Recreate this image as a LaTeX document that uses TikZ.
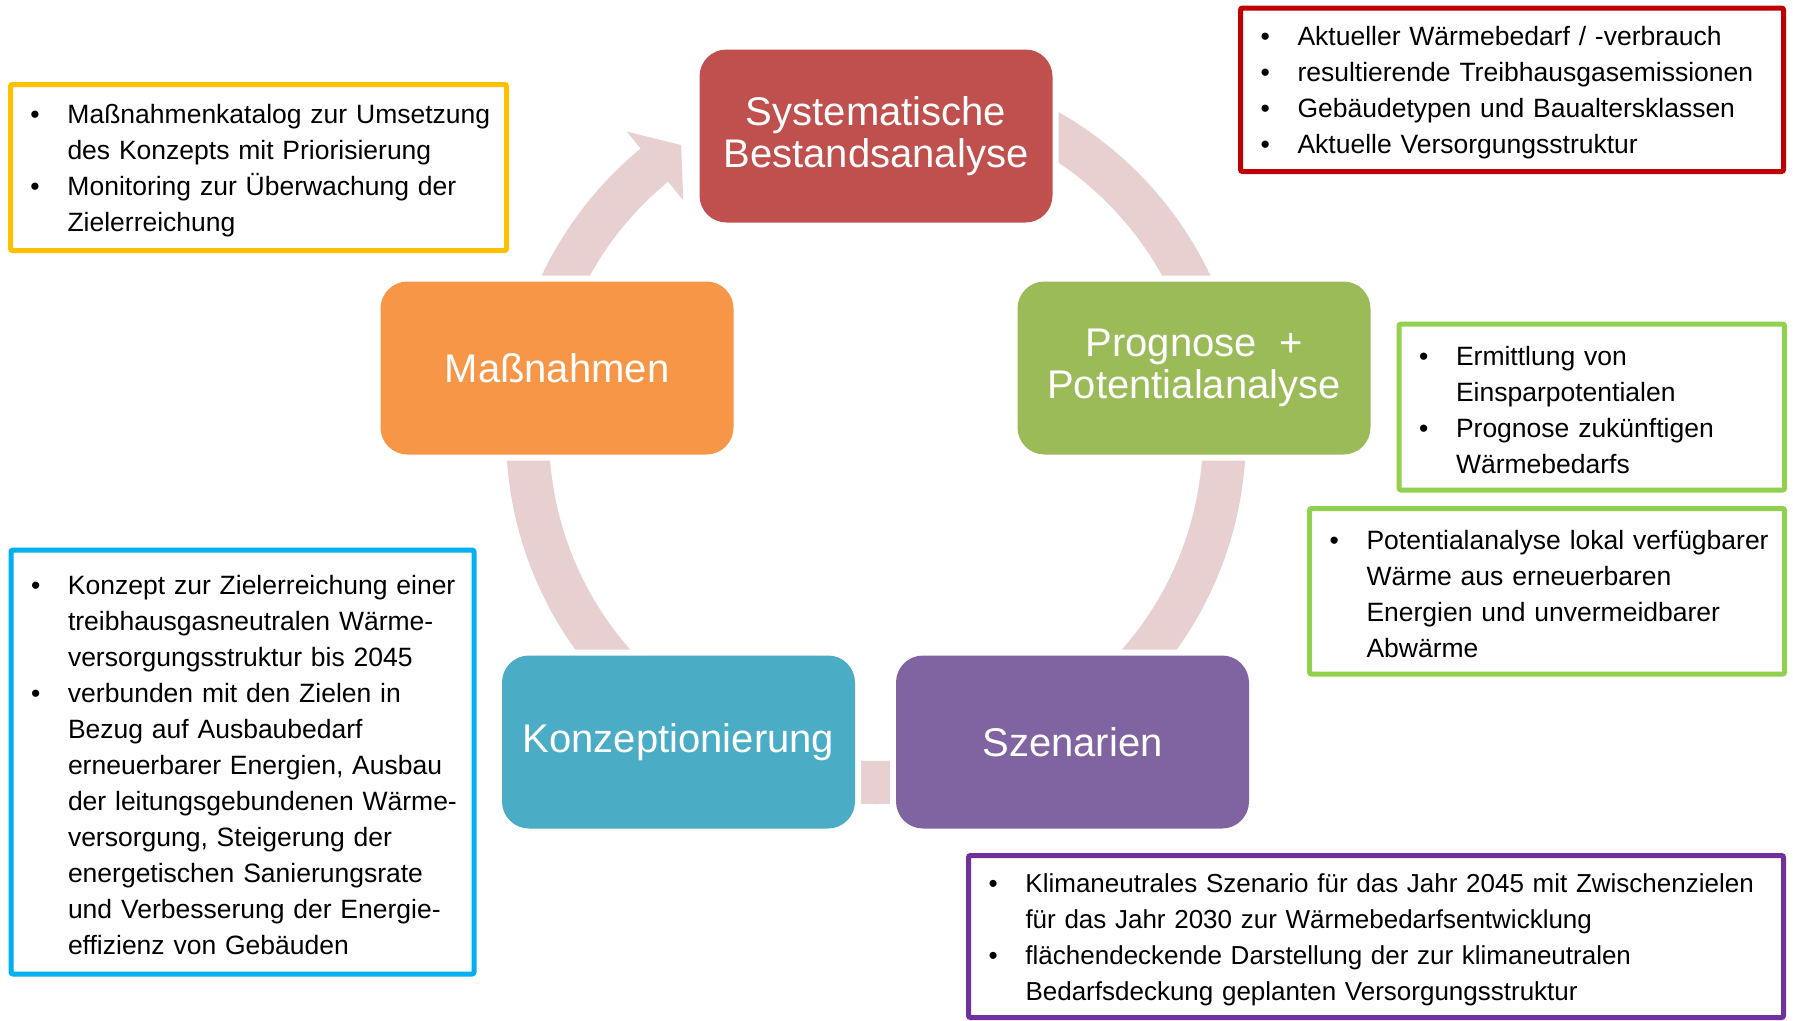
\documentclass[tikz,border=0pt]{standalone}
\usepackage{fontspec}
\setmainfont{Liberation Sans}
\usepackage{tikz}
\usetikzlibrary{positioning}
\definecolor{sysred}{RGB}{192,80,77}
\definecolor{proggreen}{RGB}{155,187,89}
\definecolor{szenpurple}{RGB}{128,100,162}
\definecolor{konzblue}{RGB}{75,172,198}
\definecolor{massorange}{RGB}{247,150,70}
\definecolor{arcpink}{RGB}{232,208,209}
\definecolor{notered}{RGB}{192,0,0}
\definecolor{noteyellow}{RGB}{255,192,0}
\definecolor{notegreen}{RGB}{146,208,80}
\definecolor{noteblue}{RGB}{0,176,240}
\definecolor{notepurple}{RGB}{112,48,160}
\newcommand{\bl}[1]{\mbox{\rule{0pt}{25.5pt}\makebox[37pt][l]{\textbullet}#1}}
\newcommand{\cl}[1]{\mbox{\hspace*{37pt}#1}}
\tikzset{
  stage/.style    = {fill=#1, rounded corners=27pt, minimum width=353pt,
                     minimum height=173pt, inner sep=0pt, outer sep=0pt,
                     text=white, align=center, font=\fontsize{40}{42}\selectfont,
                     preaction={draw=white, line width=12pt}},
  note/.style     = {draw=#1, fill=white, line width=5pt, rounded corners=2pt,
                     inner xsep=20pt, inner ysep=0pt, outer sep=0pt, align=left,
                     anchor=north west, font=\fontsize{26.5}{36}\selectfont},
  cycarrow/.style = {fill=arcpink},
}

\begin{document}
\begin{tikzpicture}[x=1pt, y=-1pt]
  \useasboundingbox (0,0) rectangle (1793,1020);
  \fill[white] (0,0) rectangle (1793,1020);

  % cycle arrow behind the stages
  \coordinate (c) at (876,434);
  \begin{scope}[shift={(c)}]
    \fill[cycarrow] (-90:370) arc[start angle=-90, end angle=230.5, radius=370]
      -- (230.5:392) -- (236:348.5) -- (230.5:303) -- (230.5:327)
      arc[start angle=230.5, end angle=-90, radius=327] -- cycle;
  \end{scope}

  % stages
  \node[stage=sysred] (sys) at (876,136) {Systematische\\Bestandsanalyse};
  \node[stage=proggreen] (prog) at (1194,368) {Prognose~ +\\Potentialanalyse};
  \node[stage=konzblue] (konz) at (678.5,742) {Konzeptionierung};
  \node[stage=szenpurple, right=41pt of konz] (szen) {Szenarien};
  \node[stage=massorange] (mass) at (557,368) {Maßnahmen};

  % notes
  \node[note=notered, text width=503pt, minimum height=163.5pt] (nBestand) at (1240.5,8)
    {\bl{Aktueller Wärmebedarf / -verbrauch}\\
     \bl{resultierende Treibhausgasemissionen}\\
     \bl{Gebäudetypen und Baualtersklassen}\\
     \bl{Aktuelle Versorgungsstruktur}};
  \node[note=noteyellow, text width=456pt, minimum height=166pt] (nMass) at (10.5,84.5)
    {\bl{Maßnahmenkatalog zur Umsetzung}\\
     \cl{des Konzepts mit Priorisierung}\\
     \bl{Monitoring zur Überwachung der}\\
     \cl{Zielerreichung}};
  \node[note=notegreen, text width=345.5pt, minimum height=166pt] (nPrognose) at (1399,324)
    {\bl{Ermittlung von}\\
     \cl{Einsparpotentialen}\\
     \bl{Prognose zukünftigen}\\
     \cl{Wärmebedarfs}};
  \node[note=notegreen, text width=435pt, minimum height=165.5pt,
        below=18.5pt of nPrognose.south east, anchor=north east] (nPotential)
    {\bl{Potentialanalyse lokal verfügbarer}\\
     \cl{Wärme aus erneuerbaren}\\
     \cl{Energien und unvermeidbarer}\\
     \cl{Abwärme}};
  \node[note=noteblue, text width=423pt, minimum height=424pt] (nKonzept) at (11,550)
    {\bl{Konzept zur Zielerreichung einer}\\
     \cl{treibhausgasneutralen Wärme-}\\
     \cl{versorgungsstruktur bis 2045}\\
     \bl{verbunden mit den Zielen in}\\
     \cl{Bezug auf Ausbaubedarf}\\
     \cl{erneuerbarer Energien, Ausbau}\\
     \cl{der leitungsgebundenen Wärme-}\\
     \cl{versorgung, Steigerung der}\\
     \cl{energetischen Sanierungsrate}\\
     \cl{und Verbesserung der Energie-}\\
     \cl{effizienz von Gebäuden}};
  \node[note=notepurple, text width=775pt, minimum height=162pt,
        font=\fontsize{26}{36}\selectfont] (nSzenario) at (968.5,855.5)
    {\bl{Klimaneutrales Szenario für das Jahr 2045 mit Zwischenzielen}\\
     \cl{für das Jahr 2030 zur Wärmebedarfsentwicklung}\\
     \bl{flächendeckende Darstellung der zur klimaneutralen}\\
     \cl{Bedarfsdeckung geplanten Versorgungsstruktur}};
\end{tikzpicture}
\end{document}
